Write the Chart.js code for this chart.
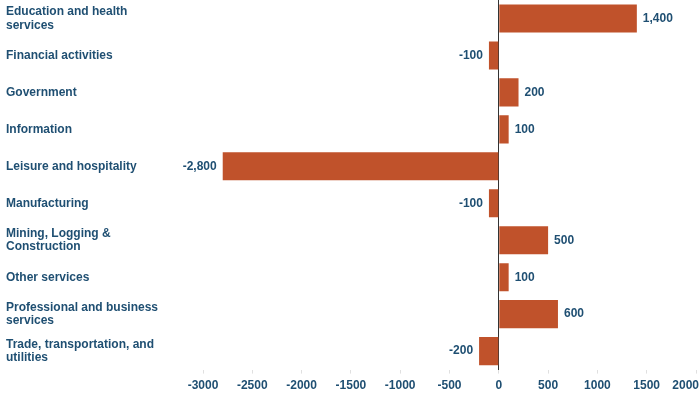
<!DOCTYPE html>
<html>
<head>
<meta charset="utf-8">
<script src="https://cdn.jsdelivr.net/npm/chart.js@4/dist/chart.umd.min.js"></script>
<style>
  html, body { margin: 0; padding: 0; background: #fff; }
  #wrap { width: 700px; height: 400px; position: relative; }
</style>
</head>
<body>
<div id="wrap"><canvas id="c"></canvas></div>
<script>
const categories = [
  ["Education and health", "services"],
  "Financial activities",
  "Government",
  "Information",
  "Leisure and hospitality",
  "Manufacturing",
  ["Mining, Logging &", "Construction"],
  "Other services",
  ["Professional and business", "services"],
  ["Trade, transportation, and", "utilities"]
];
const changes = [1400, -100, 200, 100, -2800, -100, 500, 100, 600, -200];
const xMin = -3000;
const xMax = 2000;
const xStep = 500;

const textColor = '#1f4f72';
const barColor = '#c0522b';
const fontFamily = "'Liberation Sans', Arial, sans-serif";

const valueLabels = {
  id: 'valueLabels',
  afterDatasetsDraw(chart) {
    const ctx = chart.ctx;
    const meta = chart.getDatasetMeta(0);
    ctx.save();
    ctx.font = "bold 12px " + fontFamily;
    ctx.fillStyle = textColor;
    ctx.textBaseline = 'middle';
    meta.data.forEach((bar, i) => {
      const v = changes[i];
      const txt = v.toLocaleString('en-US');
      if (v >= 0) {
        ctx.textAlign = 'left';
        ctx.fillText(txt, bar.x + 6, bar.y);
      } else {
        ctx.textAlign = 'right';
        ctx.fillText(txt, bar.x - 6, bar.y);
      }
    });
    ctx.restore();
  }
};

const lastTickAlign = {
  id: 'lastTickAlign',
  beforeDraw(chart) {
    const s = chart.scales.x;
    const items = s.getLabelItems(chart.chartArea);
    if (items && items.length) {
      const last = items[items.length - 1];
      last.options.textAlign = 'right';
      last.options.translation = [chart.width - 1, last.options.translation[1]];
    }
  }
};

new Chart(document.getElementById('c'), {
  type: 'bar',
  data: {
    labels: categories,
    datasets: [{
      data: changes,
      backgroundColor: barColor,
      borderWidth: 0,
      barPercentage: 0.76,
      categoryPercentage: 1.0
    }]
  },
  options: {
    indexAxis: 'y',
    responsive: true,
    maintainAspectRatio: false,
    animation: false,
    layout: { padding: { left: 6, right: 0, top: 0, bottom: 2 } },
    plugins: {
      legend: { display: false },
      tooltip: { enabled: false }
    },
    scales: {
      x: {
        min: xMin,
        max: xMax,
        ticks: {
          stepSize: xStep,
          color: textColor,
          font: { family: fontFamily, size: 12, weight: 'bold' },
          padding: 5,
          maxRotation: 0,
          autoSkip: false,
          callback: (v) => String(v)
        },
        grid: {
          drawOnChartArea: true,
          drawTicks: true,
          tickLength: 4,
          tickColor: '#e0e0e0',
          color: (c) => (c.tick && c.tick.value === 0) ? '#333333' : 'rgba(0,0,0,0)',
          lineWidth: 1
        },
        border: { display: false },
        afterFit(scale) { scale.paddingRight = 4; scale.paddingLeft = 0; }
      },
      y: {
        ticks: {
          crossAlign: 'far',
          color: textColor,
          font: { family: fontFamily, size: 12, weight: 'bold', lineHeight: 1.15 },
          padding: 0
        },
        grid: { display: false, drawTicks: false },
        border: { display: false },
        afterFit(scale) { scale.width = 197; scale.paddingTop = 0; scale.paddingBottom = 0; }
      }
    }
  },
  plugins: [valueLabels, lastTickAlign]
});
</script>
</body>
</html>
